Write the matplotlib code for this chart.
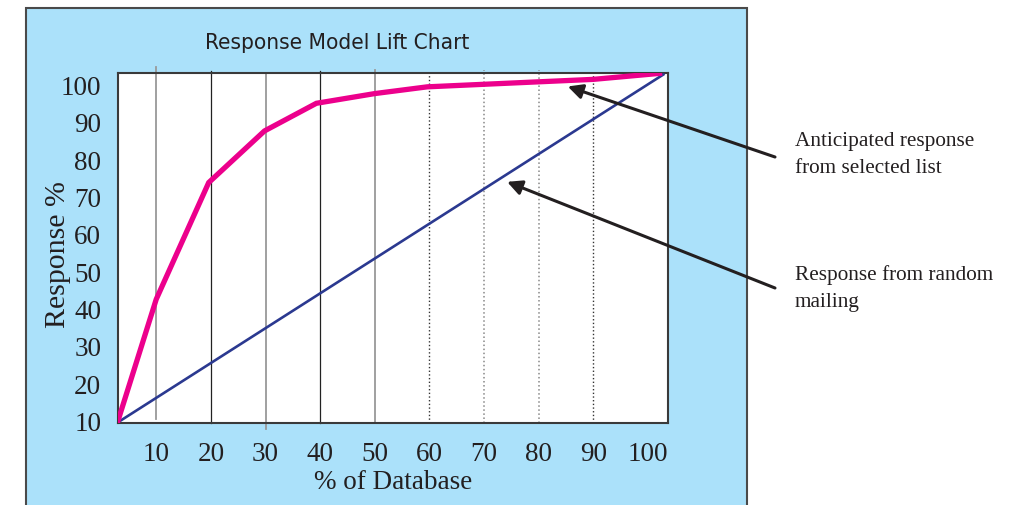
import matplotlib.pyplot as plt
from matplotlib.patches import Rectangle
from matplotlib import font_manager

# values (x = % of database, y = response %)
lift_x = [3, 10, 19.6, 29.8, 39.3, 50, 59.6, 90, 102.1]
lift_y = [10, 42.5, 73.7, 87.5, 94.9, 97.5, 99.3, 101.3, 102.9]
random_x = [3, 102.8]
random_y = [9.6, 102.6]
x_ticks = [10, 20, 30, 40, 50, 60, 70, 80, 90, 100]
y_ticks = [10, 20, 30, 40, 50, 60, 70, 80, 90, 100]
grid_x = [10, 20, 30, 40, 50, 60, 70, 80, 90]

SERIF = ["Liberation Serif", "DejaVu Serif"]

# pick a narrow sans for the title if one is around
fonts = font_manager.fontManager.ttflist
title_kw = dict(family="Liberation Sans", fontsize=16)
if any(f.name == "Liberation Sans Narrow" for f in fonts):
    title_kw = dict(family="Liberation Sans Narrow", fontsize=18.5)
elif any(f.name == "DejaVu Sans" and f.stretch == "condensed" for f in fonts):
    title_kw = dict(family="DejaVu Sans", fontstretch="condensed", fontsize=16.2)

fig = plt.figure(figsize=(10.26, 5.06), dpi=100)
W, H = 1026, 506

# light blue panel behind the chart
fig.patches.append(Rectangle((26 / W, -0.05), (747 - 26) / W, 1.05 - 9 / H,
                             transform=fig.transFigure, facecolor="#abe1fa",
                             edgecolor="#4a4a4a", lw=1.5, zorder=-1))

ax = fig.add_axes([118 / W, 1 - 424 / H, (668.3 - 118) / W, (424 - 74) / H])
ax.set_zorder(2)
ax.set_facecolor("white")
ax.set_xlim(3, 103.7)
ax.set_ylim(9.4, 103)

# vertical grid lines, mixed styles as in the original
g_colors = ["#999999", "#222222", "#999999", "#222222", "#999999",
            "#333333", "#888888", "#888888", "#333333"]
g_styles = ["-", "-", "-", "-", "-", ":", ":", ":", ":"]
g_width = [1.3, 0.9, 1.3, 0.9, 1.3, 1.0, 1.1, 1.1, 1.0]
g_top = [1.018, 1.006, 1.0, 1.006, 1.01, 1.008, 1.008, 1.008, 1.008]
g_bot = [0.012, 0.0, -0.016, 0.0, 0.0, 0.0, 0.0, 0.0, 0.0]
trans = ax.get_xaxis_transform()
for gx, c, ls, w, t, b in zip(grid_x, g_colors, g_styles, g_width, g_top, g_bot):
    ax.plot([gx, gx], [b, t], transform=trans, color=c, ls=ls, lw=w,
            clip_on=False, zorder=1)

ax.plot(random_x, random_y, color="#2b3990", lw=1.9, zorder=3)
ax.plot(lift_x, lift_y, color="#ec008c", lw=3.8, zorder=4,
        solid_joinstyle="miter")

for s in ax.spines.values():
    s.set_color("#3a3a3a")
    s.set_linewidth(1.5)

ax.set_xticks(x_ticks)
ax.set_yticks(y_ticks)
ax.tick_params(length=0)
ax.tick_params(axis="x", pad=13)
ax.tick_params(axis="y", pad=12)
for lab in ax.get_xticklabels() + ax.get_yticklabels():
    lab.set_fontfamily(SERIF)
    lab.set_fontsize(19.5)
    lab.set_color("#231f20")

ax.set_xlabel("% of Database", family=SERIF, fontsize=19.5, color="#231f20",
              labelpad=2)
ax.set_ylabel("Response %", family=SERIF, fontsize=21.5, color="#231f20")
ax.yaxis.set_label_coords(-0.085, 0.483)

fig.text(337 / W, 1 - 43 / H, "Response Model Lift Chart", color="#231f20",
         ha="center", va="center", **title_kw)

# call-out arrows and notes
arrow = dict(arrowstyle="-|>", mutation_scale=22, lw=2.2, color="#231f20",
             shrinkA=0, shrinkB=0)
ax.annotate("", xy=(85.3, 99.4), xytext=(775, H - 158),
            textcoords="figure pixels", arrowprops=arrow, annotation_clip=False)
ax.annotate("", xy=(74.2, 73.9), xytext=(775, H - 289),
            textcoords="figure pixels", arrowprops=arrow, annotation_clip=False)

fig.text(795 / W, 1 - 155 / H, "Anticipated response\nfrom selected list",
         family=SERIF, fontsize=15.3, color="#231f20", ha="left", va="center",
         linespacing=1.55)
fig.text(795 / W, 1 - 288.5 / H, "Response from random\nmailing",
         family=SERIF, fontsize=15.3, color="#231f20", ha="left", va="center",
         linespacing=1.55)

fig.savefig("out.png", dpi=100)
